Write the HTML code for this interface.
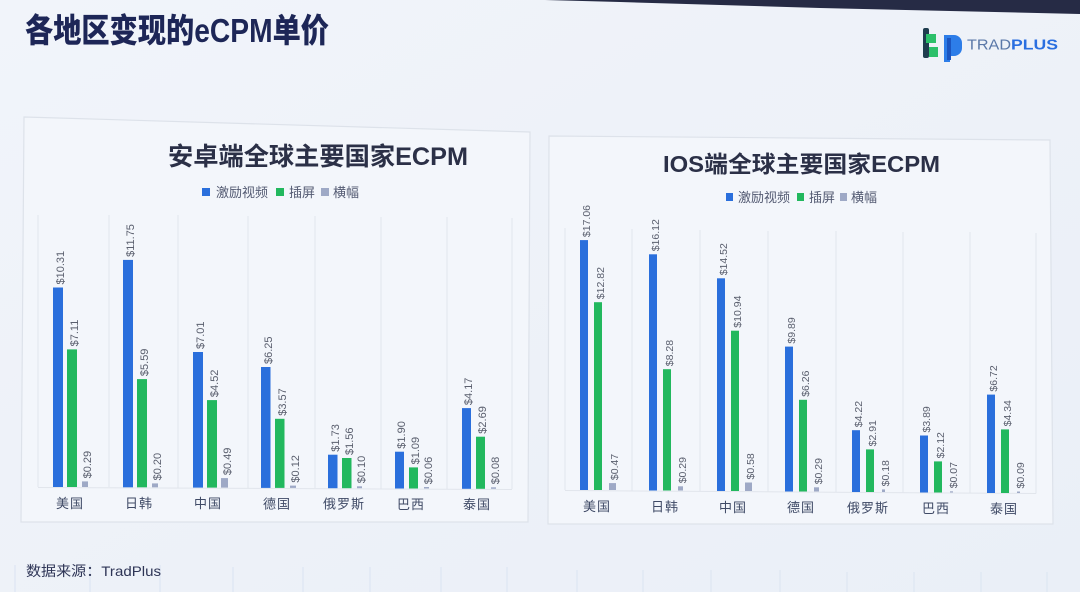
<!DOCTYPE html>
<html><head><meta charset="utf-8"><style>
html,body{margin:0;padding:0;width:1080px;height:592px;overflow:hidden;background:#eef2f8}
svg{display:block}
.cjk{font-family:"Liberation Sans","Noto Sans CJK SC",sans-serif}
.v{font-family:"Liberation Sans",sans-serif;font-size:11px;fill:#5a5f6e}
.vr{font-family:"Liberation Sans",sans-serif;font-size:10.5px;fill:#5a5f6e}
.cat{font-family:"Liberation Sans","Noto Sans CJK SC",sans-serif;font-size:13px;fill:#3f4a66;letter-spacing:1px}
.lg{font-family:"Liberation Sans","Noto Sans CJK SC",sans-serif;font-size:13px;fill:#535a72}
</style></head><body>
<svg width="1080" height="592" viewBox="0 0 1080 592" xmlns="http://www.w3.org/2000/svg">
<defs>
<linearGradient id="bg" x1="0" y1="0" x2="1" y2="1">
<stop offset="0" stop-color="#f1f4fa"/><stop offset="1" stop-color="#eaeff7"/>
</linearGradient>
</defs>
<rect width="1080" height="592" fill="url(#bg)"/>
<polygon points="545,0 1080,0 1080,14 820,8 620,2" fill="#262b45"/>

<!-- main title -->
<text x="25" y="42" class="cjk" font-size="33" font-weight="900" fill="#1d2657" textLength="304" lengthAdjust="spacingAndGlyphs">各地区变现的eCPM单价</text>

<!-- logo -->
<g>
<rect x="923" y="28" width="6" height="30" rx="2" fill="#1f3d4e"/>
<rect x="926" y="34" width="10" height="9" fill="#2cc06a"/>
<rect x="929" y="47" width="9" height="10" fill="#2cc06a"/>
<path d="M944 35 h10 a8 8 0 0 1 8 8 v5 a8 8 0 0 1 -8 8 h-4 v6 h-6 z" fill="#2d7de8"/>
<rect x="947" y="38" width="4" height="22" fill="#1b55c0"/>
<text x="967" y="49.5" font-family="Liberation Sans,sans-serif" font-size="15" fill="#5a78a8" textLength="44" lengthAdjust="spacingAndGlyphs">TRAD</text>
<text x="1011" y="49.5" font-family="Liberation Sans,sans-serif" font-size="15" font-weight="bold" fill="#2a6fe0" textLength="47" lengthAdjust="spacingAndGlyphs">PLUS</text>
</g>

<!-- panels -->
<polygon points="24,117 530,132 528,522 21,522" fill="#f3f6fb" stroke="#dde2ea" stroke-width="1.2"/>
<polygon points="549,136 1050,140 1053,524 548,524" fill="#f3f6fb" stroke="#dde2ea" stroke-width="1.2"/>

<!-- ===== Left chart ===== -->
<text x="318" y="165" text-anchor="middle" class="cjk" font-size="25" font-weight="bold" fill="#2b3047" textLength="300" lengthAdjust="spacingAndGlyphs">安卓端全球主要国家ECPM</text>
<rect x="202" y="188" width="8" height="8" fill="#2a6fdc"/>
<text x="216" y="197" class="lg">激励视频</text>
<rect x="276" y="188" width="8" height="8" fill="#22b85e"/>
<text x="289" y="197" class="lg">插屏</text>
<rect x="321" y="188" width="8" height="8" fill="#9ea9c6"/>
<text x="333" y="197" class="lg">横幅</text>

<g stroke="#e1e5ec" stroke-width="1">
<line x1="38" y1="215" x2="38" y2="487"/>
<line x1="109" y1="215" x2="109" y2="487"/>
<line x1="178" y1="215" x2="178" y2="488"/>
<line x1="248" y1="216" x2="248" y2="488"/>
<line x1="315" y1="216" x2="315" y2="488"/>
<line x1="381" y1="217" x2="381" y2="489"/>
<line x1="447" y1="217" x2="447" y2="489"/>
<line x1="512" y1="218" x2="512" y2="489"/>
<line x1="38" y1="487.5" x2="512" y2="489.5"/>
</g>

<g>
<rect x="53" y="287.5" width="10" height="199.5" fill="#2a6fdc"/>
<rect x="67" y="349.4" width="10" height="137.6" fill="#22b85e"/>
<rect x="82" y="481.4" width="6" height="5.6" fill="#9ea9c6"/>
<rect x="123" y="259.9" width="10" height="227.4" fill="#2a6fdc"/>
<rect x="137" y="379.1" width="10" height="108.2" fill="#22b85e"/>
<rect x="152" y="483.4" width="6" height="3.9" fill="#9ea9c6"/>
<rect x="193" y="352" width="10" height="135.6" fill="#2a6fdc"/>
<rect x="207" y="400.1" width="10" height="87.5" fill="#22b85e"/>
<rect x="221" y="478.1" width="7" height="9.5" fill="#9ea9c6"/>
<rect x="261" y="367" width="9.5" height="120.9" fill="#2a6fdc"/>
<rect x="275" y="418.8" width="9.5" height="69.1" fill="#22b85e"/>
<rect x="290" y="485.6" width="6" height="2.3" fill="#9ea9c6"/>
<rect x="328" y="454.7" width="9.5" height="33.5" fill="#2a6fdc"/>
<rect x="342" y="458" width="9.5" height="30.2" fill="#22b85e"/>
<rect x="357" y="486.3" width="5" height="1.9" fill="#9ea9c6"/>
<rect x="395" y="451.7" width="9" height="36.8" fill="#2a6fdc"/>
<rect x="409" y="467.4" width="9" height="21.1" fill="#22b85e"/>
<rect x="424" y="487" width="5" height="1.5" fill="#9ea9c6"/>
<rect x="462" y="408.1" width="9" height="80.7" fill="#2a6fdc"/>
<rect x="476" y="436.7" width="9" height="52.1" fill="#22b85e"/>
<rect x="491" y="487.3" width="5" height="1.5" fill="#9ea9c6"/>
</g>

<g>
<text class="v" transform="translate(64,284.5) rotate(-90)">$10.31</text>
<text class="v" transform="translate(78,346.4) rotate(-90)">$7.11</text>
<text class="v" transform="translate(91,478.4) rotate(-90)">$0.29</text>
<text class="v" transform="translate(134,256.9) rotate(-90)">$11.75</text>
<text class="v" transform="translate(148,376.1) rotate(-90)">$5.59</text>
<text class="v" transform="translate(161,480.4) rotate(-90)">$0.20</text>
<text class="v" transform="translate(204,349) rotate(-90)">$7.01</text>
<text class="v" transform="translate(218,397.1) rotate(-90)">$4.52</text>
<text class="v" transform="translate(231,475.1) rotate(-90)">$0.49</text>
<text class="v" transform="translate(272,364) rotate(-90)">$6.25</text>
<text class="v" transform="translate(286,415.8) rotate(-90)">$3.57</text>
<text class="v" transform="translate(299,482.6) rotate(-90)">$0.12</text>
<text class="v" transform="translate(339,451.7) rotate(-90)">$1.73</text>
<text class="v" transform="translate(353,455) rotate(-90)">$1.56</text>
<text class="v" transform="translate(365,483.3) rotate(-90)">$0.10</text>
<text class="v" transform="translate(405,448.7) rotate(-90)">$1.90</text>
<text class="v" transform="translate(419,464.4) rotate(-90)">$1.09</text>
<text class="v" transform="translate(432,484.3) rotate(-90)">$0.06</text>
<text class="v" transform="translate(472,405.1) rotate(-90)">$4.17</text>
<text class="v" transform="translate(486,433.7) rotate(-90)">$2.69</text>
<text class="v" transform="translate(499,484.3) rotate(-90)">$0.08</text>
</g>

<g text-anchor="middle">
<text class="cat" x="70" y="508">美国</text>
<text class="cat" x="139" y="508">日韩</text>
<text class="cat" x="208" y="508">中国</text>
<text class="cat" x="277" y="508.5">德国</text>
<text class="cat" x="344" y="508.5">俄罗斯</text>
<text class="cat" x="411" y="509">巴西</text>
<text class="cat" x="477" y="509">泰国</text>
</g>

<!-- ===== Right chart ===== -->
<text x="663" y="172" class="cjk" font-size="23" font-weight="bold" fill="#2b3047" textLength="277" lengthAdjust="spacingAndGlyphs">IOS端全球主要国家ECPM</text>
<rect x="726" y="193" width="7" height="8" fill="#2a6fdc"/>
<text x="738" y="202" class="lg">激励视频</text>
<rect x="797" y="193" width="7" height="8" fill="#22b85e"/>
<text x="809" y="202" class="lg">插屏</text>
<rect x="840" y="193" width="7" height="8" fill="#9ea9c6"/>
<text x="851" y="202" class="lg">横幅</text>

<g stroke="#e1e5ec" stroke-width="1">
<line x1="565" y1="228" x2="565" y2="490"/>
<line x1="632" y1="229" x2="632" y2="490.5"/>
<line x1="700" y1="230" x2="700" y2="491"/>
<line x1="768" y1="231" x2="768" y2="491.5"/>
<line x1="836" y1="231" x2="836" y2="492"/>
<line x1="903" y1="232" x2="903" y2="492.5"/>
<line x1="970" y1="232" x2="970" y2="493"/>
<line x1="1036" y1="233" x2="1036" y2="493.5"/>
<line x1="565" y1="490.5" x2="1036" y2="493.5"/>
</g>

<g>
<rect x="580" y="240.1" width="8" height="249.9" fill="#2a6fdc"/>
<rect x="594" y="302.2" width="8" height="187.8" fill="#22b85e"/>
<rect x="609" y="483.1" width="7" height="6.9" fill="#9ea9c6"/>
<rect x="649" y="254.3" width="8" height="236.2" fill="#2a6fdc"/>
<rect x="663" y="369.2" width="8" height="121.3" fill="#22b85e"/>
<rect x="678" y="486.3" width="5" height="4.2" fill="#9ea9c6"/>
<rect x="717" y="278.3" width="8" height="212.7" fill="#2a6fdc"/>
<rect x="731" y="330.7" width="8" height="160.3" fill="#22b85e"/>
<rect x="745" y="482.5" width="7" height="8.5" fill="#9ea9c6"/>
<rect x="785" y="346.6" width="8" height="144.9" fill="#2a6fdc"/>
<rect x="799" y="399.8" width="8" height="91.7" fill="#22b85e"/>
<rect x="814" y="487.3" width="5" height="4.2" fill="#9ea9c6"/>
<rect x="852" y="430.2" width="8" height="61.8" fill="#2a6fdc"/>
<rect x="866" y="449.4" width="8" height="42.6" fill="#22b85e"/>
<rect x="882" y="489.4" width="3" height="2.6" fill="#9ea9c6"/>
<rect x="920" y="435.5" width="8" height="57" fill="#2a6fdc"/>
<rect x="934" y="461.4" width="8" height="31.1" fill="#22b85e"/>
<rect x="950" y="491.3" width="3" height="1.2" fill="#9ea9c6"/>
<rect x="987" y="394.6" width="8" height="98.4" fill="#2a6fdc"/>
<rect x="1001" y="429.4" width="8" height="63.6" fill="#22b85e"/>
<rect x="1017" y="491.5" width="3" height="1.5" fill="#9ea9c6"/>
</g>

<g>
<text class="vr" transform="translate(590,237.1) rotate(-90)">$17.06</text>
<text class="vr" transform="translate(604,299.2) rotate(-90)">$12.82</text>
<text class="vr" transform="translate(618,480.1) rotate(-90)">$0.47</text>
<text class="vr" transform="translate(659,251.3) rotate(-90)">$16.12</text>
<text class="vr" transform="translate(673,366.2) rotate(-90)">$8.28</text>
<text class="vr" transform="translate(686,483.3) rotate(-90)">$0.29</text>
<text class="vr" transform="translate(727,275.3) rotate(-90)">$14.52</text>
<text class="vr" transform="translate(741,327.7) rotate(-90)">$10.94</text>
<text class="vr" transform="translate(754,479.5) rotate(-90)">$0.58</text>
<text class="vr" transform="translate(795,343.6) rotate(-90)">$9.89</text>
<text class="vr" transform="translate(809,396.8) rotate(-90)">$6.26</text>
<text class="vr" transform="translate(822,484.3) rotate(-90)">$0.29</text>
<text class="vr" transform="translate(862,427.2) rotate(-90)">$4.22</text>
<text class="vr" transform="translate(876,446.4) rotate(-90)">$2.91</text>
<text class="vr" transform="translate(889,486.4) rotate(-90)">$0.18</text>
<text class="vr" transform="translate(930,432.5) rotate(-90)">$3.89</text>
<text class="vr" transform="translate(944,458.4) rotate(-90)">$2.12</text>
<text class="vr" transform="translate(957,488.3) rotate(-90)">$0.07</text>
<text class="vr" transform="translate(997,391.6) rotate(-90)">$6.72</text>
<text class="vr" transform="translate(1011,426.4) rotate(-90)">$4.34</text>
<text class="vr" transform="translate(1024,488.5) rotate(-90)">$0.09</text>
</g>

<g text-anchor="middle">
<text class="cat" x="597" y="511">美国</text>
<text class="cat" x="665" y="511.5">日韩</text>
<text class="cat" x="733" y="512">中国</text>
<text class="cat" x="801" y="512">德国</text>
<text class="cat" x="868" y="512.5">俄罗斯</text>
<text class="cat" x="936" y="513">巴西</text>
<text class="cat" x="1004" y="513.5">泰国</text>
</g>

<!-- faint reflections at bottom -->
<g stroke="#e0e8f4" stroke-width="2" opacity="0.7">
<line x1="15" y1="565" x2="15" y2="592"/>
<line x1="90" y1="565" x2="90" y2="592"/>
<line x1="160" y1="565" x2="160" y2="592"/>
<line x1="233" y1="567" x2="233" y2="592"/>
<line x1="303" y1="567" x2="303" y2="592"/>
<line x1="370" y1="567" x2="370" y2="592"/>
<line x1="441" y1="567" x2="441" y2="592"/>
<line x1="507" y1="567" x2="507" y2="592"/>
<line x1="577" y1="570" x2="577" y2="592"/>
<line x1="643" y1="570" x2="643" y2="592"/>
<line x1="711" y1="570" x2="711" y2="592"/>
<line x1="780" y1="570" x2="780" y2="592"/>
<line x1="847" y1="572" x2="847" y2="592"/>
<line x1="914" y1="572" x2="914" y2="592"/>
<line x1="981" y1="572" x2="981" y2="592"/>
<line x1="1047" y1="572" x2="1047" y2="592"/>
</g>

<!-- footer -->
<text x="26" y="576" class="cjk" font-size="14" fill="#2e3556" textLength="135" lengthAdjust="spacingAndGlyphs">数据来源：TradPlus</text>
</svg>
</body></html>
